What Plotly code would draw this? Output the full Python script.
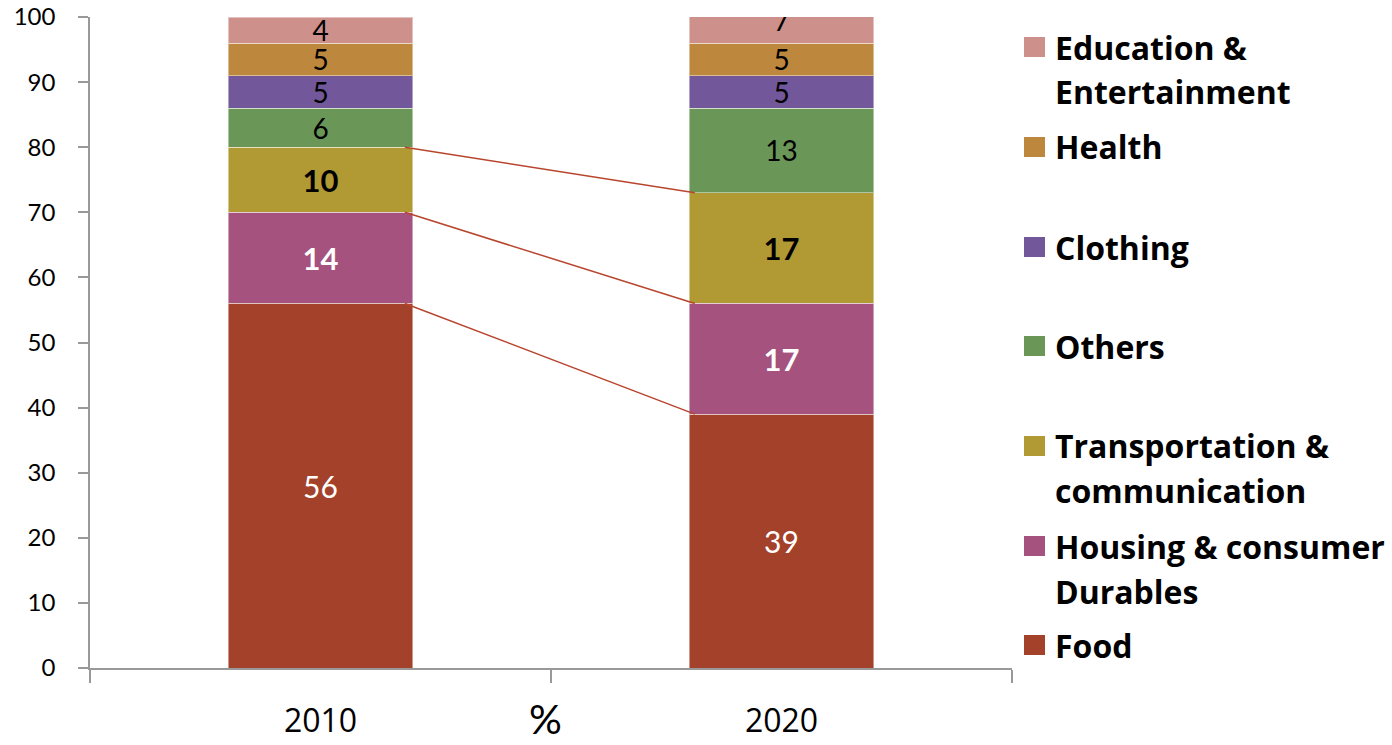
import plotly.graph_objects as go

# Household spending shares (%), stacked bottom to top
years = ["2010", "2020"]
categories = [
    "Food",
    "Housing & consumer\nDurables",
    "Transportation &\ncommunication",
    "Others",
    "Clothing",
    "Health",
    "Education &\nEntertainment",
]
food = [56, 39]
housing = [14, 17]
transport = [10, 17]
others = [6, 13]
clothing = [5, 5]
health = [5, 5]
education = [4, 7]
series = [food, housing, transport, others, clothing, health, education]

colors = ["#A3412A", "#A5527E", "#B19A34", "#6A9658", "#72589A", "#BD873D", "#CE908A"]
label_colors = ["white", "white", "black", "black", "black", "black", "black"]
label_weights = ["normal", "bold", "bold", "normal", "normal", "normal", "normal"]
label_sizes = [30, 31, 31, 28, 28, 28, 28]

FONT = "Lato"
LEGEND_FONT = "Open Sans"
W, H = 1392, 745
ML, MR, MT, MB = 90, 380, 17, 77
PW, PH = W - ML - MR, H - MT - MB


def px_x(px):
    return (px - ML) / PW


def px_y(py):
    return (H - MB - py) / PH


fig = go.Figure()
for name, vals, col, lc, lw, ls in zip(categories, series, colors, label_colors,
                                       label_weights, label_sizes):
    fig.add_trace(go.Bar(
        x=years, y=vals, name=name.replace("\n", " "),
        marker=dict(color=col, line=dict(color="rgba(255,255,255,0.45)", width=1)),
        text=[str(v) for v in vals],
        textposition="inside", insidetextanchor="middle", textangle=0,
        constraintext="none",
        textfont=dict(family=FONT, size=ls, color=lc, weight=lw),
        width=0.4, showlegend=False, hoverinfo="skip",
    ))

# connector lines between the tops of the three lowest segments
cum = [[0, 0]]
for s in series:
    cum.append([cum[-1][i] + s[i] for i in range(2)])
for level in cum[1:4]:
    fig.add_shape(type="line", xref="x", yref="y",
                  x0=0.183, x1=0.812, y0=level[0], y1=level[1],
                  line=dict(color="#B8452D", width=1.5), layer="above")

# legend drawn on the right, top item first
legend_rows = [47, 147, 247, 346, 446, 546, 645]
line_pitch = 45
for row_y, name, col in zip(legend_rows, categories[::-1], colors[::-1]):
    fig.add_shape(type="rect", xref="paper", yref="paper",
                  x0=px_x(1024), x1=px_x(1045), y0=px_y(row_y - 10), y1=px_y(row_y + 10),
                  fillcolor=col, line=dict(width=0))
    for k, line in enumerate(name.split("\n")):
        fig.add_annotation(xref="paper", yref="paper", x=px_x(1053), y=px_y(row_y + k * line_pitch),
                           xanchor="left", yanchor="middle", text=line, showarrow=False,
                           font=dict(family=LEGEND_FONT, size=32, color="black", weight="bold"))

fig.add_annotation(xref="paper", yref="paper", x=px_x(545), y=px_y(718),
                   xanchor="center", yanchor="middle", text="%", showarrow=False,
                   font=dict(family=FONT, size=41, color="black"))

fig.update_layout(
    width=W, height=H, margin=dict(l=ML, r=MR, t=MT, b=MB, autoexpand=False),
    paper_bgcolor="white", plot_bgcolor="white",
    barmode="stack", bargap=0.6,
    showlegend=False,
    font=dict(family=FONT, color="black"),
)
fig.update_xaxes(
    type="category", tickson="boundaries", ticks="outside", ticklen=13,
    tickcolor="#999999", tickwidth=1.5, showline=True, linecolor="#999999", linewidth=1.5,
    showgrid=False, tickfont=dict(family=LEGEND_FONT, size=32, color="black"),
    ticklabelstandoff=24, automargin=False,
)
fig.update_yaxes(
    range=[0, 100], dtick=10, ticks="outside", ticklen=10,
    tickcolor="#999999", tickwidth=1.5, showline=True, linecolor="#999999", linewidth=1.5,
    showgrid=False, zeroline=False, tickfont=dict(family=FONT, size=24, color="black"),
    ticklabelstandoff=18, automargin=False,
)

fig.write_html("out.html", include_plotlyjs=True, config={"displayModeBar": False})
